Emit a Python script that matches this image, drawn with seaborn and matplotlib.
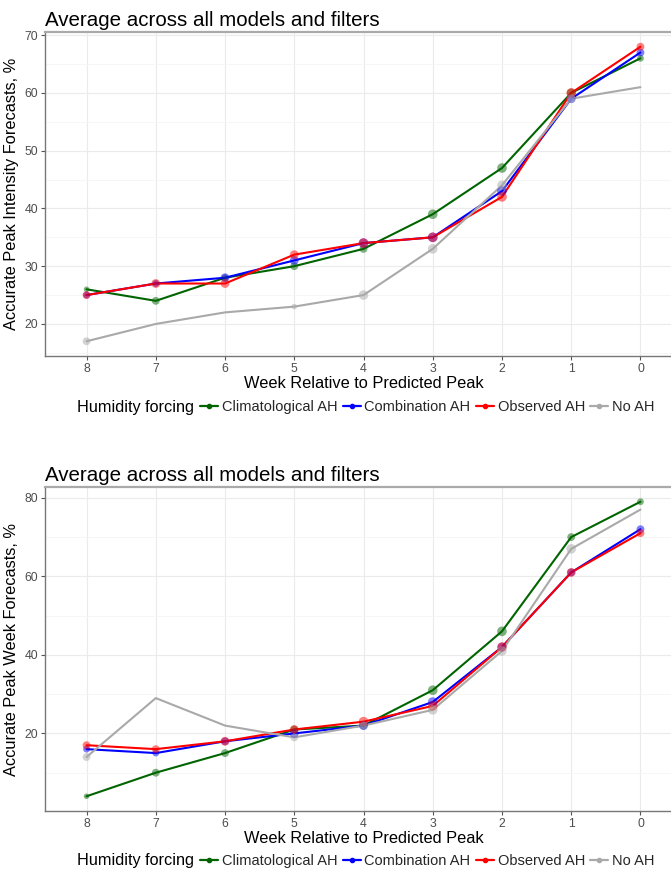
import numpy as np
import pandas as pd
import matplotlib
matplotlib.use("Agg")
import matplotlib.pyplot as plt
from matplotlib.lines import Line2D
from matplotlib.ticker import FixedLocator
import seaborn as sns

# ---------------- data ----------------
weeks = [8, 7, 6, 5, 4, 3, 2, 1, 0]
forcings = ["Climatological AH", "Combination AH", "Observed AH", "No AH"]
colors = ["#006400", "#0000FF", "#FF0000", "#A9A9A9"]

# Panel 1: accurate peak intensity forecasts (%)
intensity_clim = [26, 24, 28, 30, 33, 39, 47, 60, 66]
intensity_comb = [25, 27, 28, 31, 34, 35, 43, 59, 67]
intensity_obs = [25, 27, 27, 32, 34, 35, 42, 60, 68]
intensity_noah = [17, 20, 22, 23, 25, 33, 44, 59, 61]
# point-size weights (relative)
intensity_size_clim = [1, 2, 1.5, 2, 2, 3, 3, 2.5, 1.5]
intensity_size_comb = [1.5, 1.5, 2.5, 2.5, 3, 3, 3, 2.5, 2]
intensity_size_obs = [2, 2.5, 2.5, 2.5, 3, 3, 3, 3, 2]
intensity_size_noah = [2, 0, 0, 1, 3, 3, 3, 2.5, 0]

# Panel 2: accurate peak week forecasts (%)
week_clim = [4, 10, 15, 21, 22, 31, 46, 70, 79]
week_comb = [16, 15, 18, 20, 22, 28, 42, 61, 72]
week_obs = [17, 16, 18, 21, 23, 27, 42, 61, 71]
week_noah = [14, 29, 22, 19, 22, 26, 41, 67, 77]
week_size_clim = [1, 2, 2, 2, 2, 3, 3, 2, 1.5]
week_size_comb = [1.5, 1.5, 2, 2.5, 2.5, 3, 2.5, 2, 2]
week_size_obs = [2, 2, 2.5, 2.5, 3, 3, 3, 2.5, 2]
week_size_noah = [2, 0, 0, 2, 2, 3, 3, 3, 0]

title = "Average across all models and filters"
xlabel = "Week Relative to Predicted Peak"
ylabel_top = "Accurate Peak Intensity Forecasts, %"
ylabel_bot = "Accurate Peak Week Forecasts, %"
legend_title = "Humidity forcing"


def long_df(series, sizes):
    rows = []
    for f, vals, sz in zip(forcings, series, sizes):
        for w, v, s in zip(weeks, vals, sz):
            rows.append({"week": w, "value": v, "forcing": f, "psize": s})
    return pd.DataFrame(rows)


df_top = long_df([intensity_clim, intensity_comb, intensity_obs, intensity_noah],
                 [intensity_size_clim, intensity_size_comb, intensity_size_obs, intensity_size_noah])
df_bot = long_df([week_clim, week_comb, week_obs, week_noah],
                 [week_size_clim, week_size_comb, week_size_obs, week_size_noah])

sns.set_theme(style="white")
plt.rcParams["font.family"] = ["Liberation Sans", "DejaVu Sans"]

W, H = 671, 869
fig = plt.figure(figsize=(W / 100, H / 100), dpi=100)
palette = dict(zip(forcings, colors))


def panel(df, top_px, bottom_px, ylabel, ymajor, yminor):
    ax = fig.add_axes([45 / W, 1 - bottom_px / H, 637 / W, (bottom_px - top_px) / H])
    ax.set_facecolor("white")
    sns.lineplot(data=df, x="week", y="value", hue="forcing", palette=palette,
                 hue_order=forcings, linewidth=1.5, legend=False, ax=ax, zorder=2,
                 errorbar=None)
    sns.scatterplot(data=df, x="week", y="value", hue="forcing", palette=palette,
                    size="psize", sizes=(0, 48), size_norm=(0, 3), alpha=0.5,
                    linewidth=0, legend=False, ax=ax, zorder=3)
    vmin, vmax = df["value"].min(), df["value"].max()
    pad = (vmax - vmin) * 0.05
    ax.set_ylim(vmin - pad, vmax + pad)
    ax.set_xlim(8.6, -0.6)
    ax.xaxis.set_major_locator(FixedLocator(weeks))
    ax.set_xticklabels([str(w) for w in weeks])
    ax.yaxis.set_major_locator(FixedLocator(ymajor))
    ax.yaxis.set_minor_locator(FixedLocator(yminor))
    ax.grid(True, which="major", color="#EBEBEB", linewidth=0.8)
    ax.grid(True, which="minor", axis="y", color="#F5F5F5", linewidth=0.6)
    ax.set_axisbelow(True)
    ax.tick_params(axis="both", which="major", length=3, width=0.8, color="#555555",
                   labelsize=8.8, labelcolor="#4D4D4D", pad=2, left=True, bottom=True)
    ax.tick_params(axis="y", which="minor", length=0)
    for s in ["left", "bottom"]:
        ax.spines[s].set_color("#777777")
        ax.spines[s].set_linewidth(1.0)
    ax.spines["top"].set_color("#AAAAAA")
    ax.spines["top"].set_linewidth(1.6)
    ax.spines["right"].set_color("#AAAAAA")
    ax.set_xlabel(xlabel, fontsize=11.8, color="black", labelpad=1)
    ax.set_ylabel(ylabel, fontsize=11.8, color="black", labelpad=4)
    ax.set_title(title, loc="left", fontsize=14.8, color="black", pad=4)
    return ax


ax1 = panel(df_top, 32, 356, ylabel_top, [20, 30, 40, 50, 60, 70], [15, 25, 35, 45, 55, 65])
ax2 = panel(df_bot, 487, 811, ylabel_bot, [20, 40, 60, 80], [10, 30, 50, 70])


def add_legend(y_px):
    handles = [Line2D([0], [0], color=c, lw=1.6, marker="o", markersize=3) for c in colors]
    fig.legend(handles, forcings, loc="center left", bbox_to_anchor=(200 / W, 1 - y_px / H),
               ncol=4, frameon=False, fontsize=10.5, handlelength=1.25, handletextpad=0.25,
               columnspacing=0.35, borderpad=0, borderaxespad=0)
    fig.text(194 / W, 1 - y_px / H, legend_title, ha="right", va="center", fontsize=11.7,
             color="black")


add_legend(407)
add_legend(861)

fig.savefig("out.png", dpi=100)
